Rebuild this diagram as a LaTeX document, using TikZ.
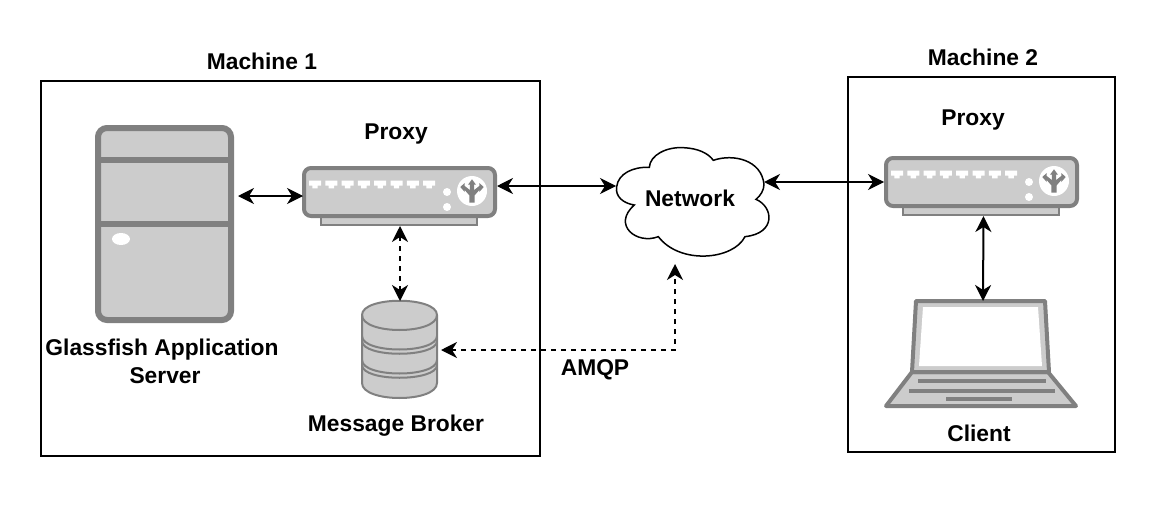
\documentclass[tikz,border=0pt]{standalone}
\usepackage{fontspec}
\setmainfont{Liberation Sans}
\usetikzlibrary{arrows.meta}
\definecolor{devfill}{HTML}{CCCCCC}
\definecolor{devline}{HTML}{808080}
\tikzset{
  machine/.style={draw=black,line width=1.6pt,fill=white},
  label/.style={font=\fontsize{22.8}{28}\selectfont\bfseries,align=center,inner sep=0pt,text=black},
  hit/.style={inner sep=0pt,outer sep=0pt,minimum width=#1},
  link/.style={line width=1.2pt,draw=black,{Stealth[length=16pt,width=16pt,inset=5pt]}-{Stealth[length=16pt,width=16pt,inset=5pt]}},
  dlink/.style={link,line width=1.7pt,dash pattern=on 5pt off 5pt},
  dev/.style={draw=devline,fill=devfill},
}
\newcommand{\proxydev}[3]{%
  \begin{scope}[shift={(#2,#3)}]
    \draw[dev,line width=2.6pt] (19,48) rectangle (175,59);
    \draw[dev,line width=4pt,rounded corners=7pt] (2,2) rectangle (193,50);
    \foreach \i in {0,...,7}{
      \fill[white,shift={(16.3*\i,0)}] (7,14.7) -- (19,14.7) -- (19,19.7) -- (15.7,19.7) -- (15.7,22.3) -- (10.3,22.3) -- (10.3,19.7) -- (7,19.7) -- cycle;
    }
    \fill[white] (145,26) circle[radius=4pt];
    \fill[white] (145,41) circle[radius=4pt];
    \fill[white] (170,25) circle[radius=15pt];
    \fill[devline] (170,13.3) -- (174,18.7) -- (172.2,18.7) -- (172.2,24) -- (177.3,20) -- (177.3,17) -- (181.7,21) -- (177.3,26) -- (177.3,24) -- (172.7,29.3) -- (172.7,36.7) -- (167.3,36.7) -- (167.3,29.3) -- (162.7,24) -- (162.7,26) -- (158.3,21) -- (162.7,17) -- (162.7,20) -- (167.8,24) -- (167.8,18.7) -- (166,18.7) -- cycle;
    \node[hit=195pt,minimum height=60pt] (#1) at (97.5,30) {};
  \end{scope}}
\begin{document}
\begin{tikzpicture}[x=1pt,y=-1pt]
\useasboundingbox (0,0) rectangle (1160,514);
\fill[white] (0,0) rectangle (1160,514);
\node[machine,minimum width=499pt,minimum height=375pt,inner sep=0pt,outer sep=0pt] (m1) at (290.5,268.5) {};
\node[machine,minimum width=267pt,minimum height=375pt,inner sep=0pt,outer sep=0pt] (m2) at (981.5,264.5) {};
\node[label] (m1t) at (262,61) {Machine 1};
\node[label] (m2t) at (983,57) {Machine 2};
% server
\node[dev,line width=6pt,rounded corners=9pt,minimum width=133pt,minimum height=192pt,inner sep=0pt,outer sep=3pt] (server) at (164.5,224) {};
\draw[devline,line width=6pt] (98,160) -- (231,160) (98,224) -- (231,224);
\fill[white] (121,239) ellipse[x radius=9pt,y radius=6pt];
\node[label] (servert) at (162,361) {Glassfish Application\\\hspace*{6pt}Server};
% proxies
\proxydev{pa}{302}{166}
\proxydev{pb}{884}{156}
\node[label] (pat) at (396,134.5) {Proxy};
\node[label] (pbt) at (973,120.5) {Proxy};
% database
\draw[dev,line width=2pt] (362,315) -- (362,383) .. controls (362,403) and (437,403) .. (437,383) -- (437,315) .. controls (437,296) and (362,296) .. (362,315) -- cycle;
\draw[devline,line width=2pt] (362,315) .. controls (362,335) and (437,335) .. (437,315);
\draw[devline,line width=2pt] (362,336) .. controls (362,354) and (437,354) .. (437,336);
\draw[devline,line width=2pt] (362,341) .. controls (362,358) and (437,358) .. (437,341);
\draw[devline,line width=2pt] (362,360) .. controls (362,378) and (437,378) .. (437,360);
\draw[devline,line width=2pt] (362,365) .. controls (362,382) and (437,382) .. (437,365);
\node[hit=77pt,minimum height=96pt] (db) at (399.5,349) {};
\node[label] (dbt) at (396,426) {Message Broker};
% cloud
\draw[black,line width=1.5pt,fill=white,shift={(600,135)},x=0.3333pt,y=-0.3333pt]
  (50,155) .. controls (55,115) and (100,95) .. (148,97)
  .. controls (150,60) and (200,35) .. (250,38)
  .. controls (295,40) and (325,55) .. (340,76)
  .. controls (400,55) and (485,75) .. (492,148)
  .. controls (492,165) and (482,182) .. (468,193)
  .. controls (520,215) and (530,295) .. (435,305)
  .. controls (400,375) and (240,390) .. (175,305)
  .. controls (110,330) and (35,270) .. (103,210)
  .. controls (70,205) and (45,185) .. (50,155) -- cycle;
\node[hit=148pt,minimum height=112pt] (cloud) at (690,202) {};
\node[label] (cloudt) at (690,198.5) {Network};
% laptop
\draw[dev,line width=4pt,line join=round] (912,372) -- (886,406) -- (1076,406) -- (1048,372) -- cycle;
\draw[dev,line width=4pt,line join=round] (916,301) -- (1045,301) -- (1049,372) -- (912,372) -- cycle;
\fill[white] (923,307) -- (1038,307) -- (1042,366) -- (919,366) -- cycle;
\draw[devline,line width=3.4pt] (918,381) -- (1046,381) (909,391) -- (1055,391) (946,399) -- (1012,399);
\node[hit=194pt,minimum height=108pt] (laptop) at (981,355) {};
\node[label] (laptopt) at (979,433.5) {Client};
\node[label] (amqp) at (595,370) {AMQP};
% connectors
\draw[link] ([xshift=4pt]pa.west -| server.east) -- ([xshift=1pt]pa.west);
\draw[link] ([yshift=10pt]pa.east) -- ([yshift=16pt]cloud.west);
\draw[link] ([yshift=20pt]cloud.east) -- ([yshift=4pt]pb.west);
\draw[dlink] (pa.south) ++(0.5,0) coordinate (pas) -- (pas |- db.north);
\coordinate (dbe) at ([xshift=3pt,yshift=-1pt]db.east);
\coordinate (cls) at ([xshift=-15pt,yshift=-6pt]cloud.south);
\draw[dlink] (dbe) -- (cls |- dbe) -- (cls);
\draw[link,line width=2pt] ([xshift=2pt]pb.south) -- ([xshift=2pt]laptop.north);
\end{tikzpicture}
\end{document}
